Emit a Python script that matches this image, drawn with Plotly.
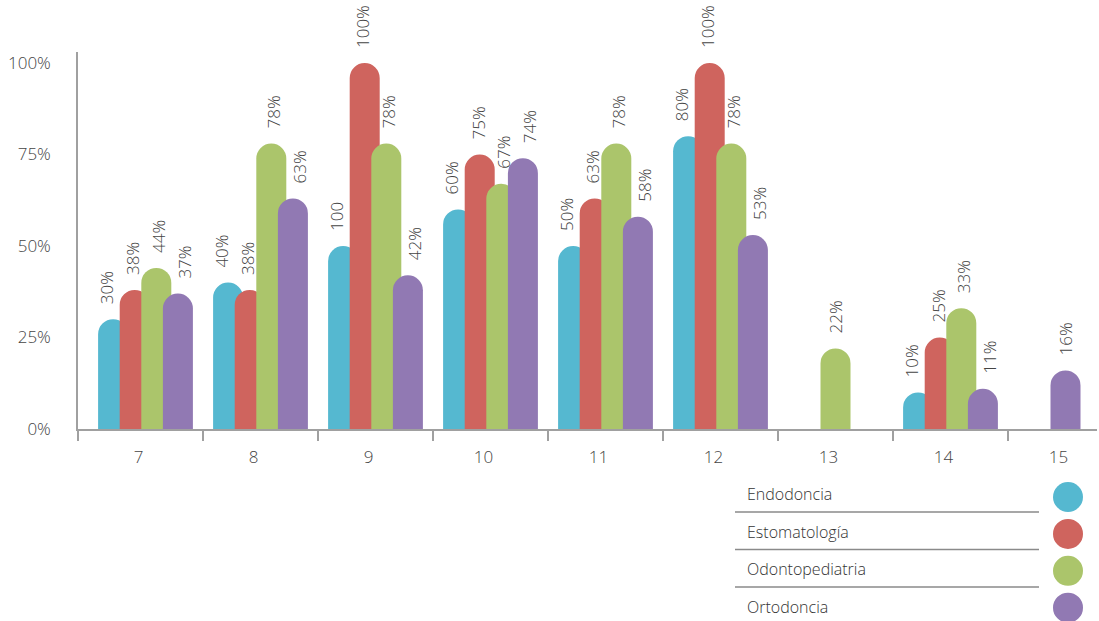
import plotly.graph_objects as go

# Grade levels on the x axis
grades = [7, 8, 9, 10, 11, 12, 13, 14, 15]

# Share of respondents per specialty (percent); None = no bar
series_names = ["Endodoncia", "Estomatología", "Odontopediatria", "Ortodoncia"]
series_colors = ["#55b8d0", "#cf645e", "#abc56b", "#9179b3"]
endodoncia = [30, 40, 50, 60, 50, 80, None, 10, None]
estomatologia = [38, 38, 100, 75, 63, 100, None, 25, None]
odontopediatria = [44, 78, 78, 67, 78, 78, 22, 33, None]
ortodoncia = [37, 63, 42, 74, 58, 53, None, 11, 16]
series_values = [endodoncia, estomatologia, odontopediatria, ortodoncia]

# Printed value labels
endodoncia_labels = ["30%", "40%", "100", "60%", "50%", "80%", None, "10%", None]
estomatologia_labels = ["38%", "38%", "100%", "75%", "63%", "100%", None, "25%", None]
odontopediatria_labels = ["44%", "78%", "78%", "67%", "78%", "78%", "22%", "33%", None]
ortodoncia_labels = ["37%", "63%", "42%", "74%", "58%", "53%", None, "11%", "16%"]
series_labels = [endodoncia_labels, estomatologia_labels,
                 odontopediatria_labels, ortodoncia_labels]

y_ticks = [0, 25, 50, 75, 100]
y_ticktext = [f"{t}%" for t in y_ticks]

# ---- geometry (pixels) ----
W, H = 1099, 621
M_L, M_R, M_T, M_B = 78, 2, 52, 192
PX_PER_CAT = 115.0
FIRST_CENTER_PX = 145.5
plot_w = W - M_L - M_R
plot_h = H - M_T - M_B
x_lo = grades[0] - (FIRST_CENTER_PX - M_L) / PX_PER_CAT
x_hi = x_lo + plot_w / PX_PER_CAT

BAR_W = 30 / PX_PER_CAT        # bar width in axis units
BAR_STEP = 21.6 / PX_PER_CAT   # overlap step between bars of a group
LABEL_STEP = 26 / PX_PER_CAT   # spacing of the value labels in a group

TEXT = "#444444"
LEGEND_TEXT = "#333333"
AXIS = "#a0a0a0"
FONT = "Open Sans"
WEIGHT = 300

# per-point offsets: bars present in a group are packed around its centre
n_present = [sum(v[i] is not None for v in series_values) for i in range(len(grades))]
rank = [[0] * len(grades) for _ in series_values]
for i in range(len(grades)):
    k = 0
    for s, vals in enumerate(series_values):
        if vals[i] is not None:
            rank[s][i] = k
            k += 1

fig = go.Figure()
annotations = []
for s, (name, color, vals, labels) in enumerate(
        zip(series_names, series_colors, series_values, series_labels)):
    offsets = []
    for i in range(len(grades)):
        n = max(n_present[i], 1)
        total = (n - 1) * BAR_STEP + BAR_W
        offsets.append(-total / 2 + rank[s][i] * BAR_STEP)
    fig.add_trace(go.Bar(
        x=grades, y=vals, name=name,
        offset=offsets, width=BAR_W,
        marker=dict(color=color, cornerradius=15, line=dict(width=0)),
        showlegend=False, hoverinfo="skip",
    ))
    for i, (v, lab) in enumerate(zip(vals, labels)):
        if v is None:
            continue
        n = n_present[i]
        lx = grades[i] + (rank[s][i] - (n - 1) / 2) * LABEL_STEP
        annotations.append(dict(
            x=lx, y=v, xref="x", yref="y", text=lab, showarrow=False,
            textangle=-90, xanchor="center", yanchor="bottom", yshift=13,
            font=dict(family=FONT, size=17, color=TEXT, weight=WEIGHT),
        ))

# ---- custom legend below the plot (rows with rules and colour dots) ----
def px_x(px):
    return (px - M_L) / plot_w

def px_y(py):
    return (H - M_B - py) / plot_h

shapes = []
ROW_PITCH = 37.6
for r, (name, color) in enumerate(zip(series_names, series_colors)):
    ty = 494 + r * ROW_PITCH
    annotations.append(dict(
        x=px_x(745), y=px_y(ty), xref="paper", yref="paper", text=name,
        showarrow=False, xanchor="left", yanchor="middle",
        font=dict(family=FONT, size=16, color=LEGEND_TEXT, weight=WEIGHT),
    ))
    cy = 497 + r * 36.9
    shapes.append(dict(
        type="circle", xref="paper", yref="paper",
        x0=px_x(1068 - 15), x1=px_x(1068 + 15),
        y0=px_y(cy - 15), y1=px_y(cy + 15),
        fillcolor=color, line=dict(width=0),
    ))
    if r < len(series_names) - 1:
        ly = 512 + r * 37.5
        shapes.append(dict(
            type="line", xref="paper", yref="paper",
            x0=px_x(735), x1=px_x(1039), y0=px_y(ly), y1=px_y(ly),
            line=dict(color="#8a8a8a", width=1.5),
        ))

boundaries = [x_lo] + [g + 0.5 for g in grades[:-1]]

fig.update_layout(
    width=W, height=H,
    margin=dict(l=M_L, r=M_R, t=M_T, b=M_B, pad=0),
    paper_bgcolor="white", plot_bgcolor="white",
    barmode="overlay",
    font=dict(family=FONT, color=TEXT, size=16, weight=WEIGHT),
    annotations=annotations, shapes=shapes,
    xaxis=dict(
        range=[x_lo, x_hi], tickvals=grades, ticktext=[str(g) for g in grades],
        ticks="", showline=True, linecolor=AXIS, linewidth=1.5,
        showgrid=False, zeroline=False, ticklabelstandoff=12,
        ticklabelshift=-7,
        tickfont=dict(family=FONT, size=17, color=TEXT, weight=WEIGHT),
        minor=dict(tickvals=boundaries, ticks="outside", ticklen=10,
                   tickcolor=AXIS, tickwidth=1.5, showgrid=False),
    ),
    yaxis=dict(
        range=[0, (H - M_B - M_T) / 3.66], tickvals=y_ticks, ticktext=y_ticktext,
        ticks="", showline=True, linecolor=AXIS, linewidth=1.5,
        showgrid=False, zeroline=False, ticklabelstandoff=22,
        tickfont=dict(family=FONT, size=17, color=TEXT, weight=WEIGHT),
    ),
)

fig.write_html("out.html")
